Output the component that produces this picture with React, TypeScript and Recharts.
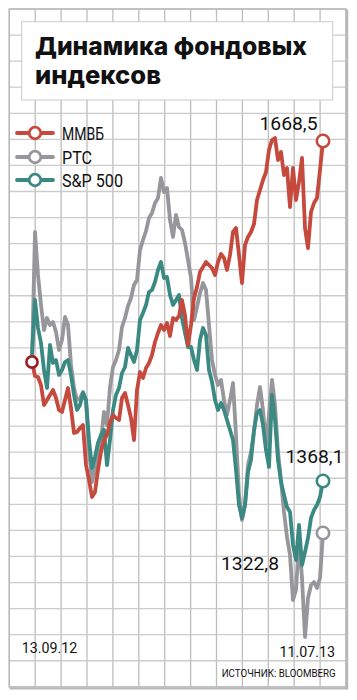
import React from "react";
import { LineChart, Line, XAxis, YAxis } from "recharts";

// ─── Data (index, start = 100) ───────────────────────────────────────────────
const tickLabels = ["13.09.12", "11.07.13"];
const seriesNames = ["ММВБ", "РТС", "S&P 500"];
const endLabels = ["1668,5", "1322,8", "1368,1"];

const mmvb = [
  100.0, 98.6, 98.5, 97.7, 95.7, 96.2, 96.7, 97.2, 96.4, 95.2,
  95.0, 96.2, 97.4, 95.4, 92.9, 93.0, 93.4, 93.7, 89.7, 88.2,
  86.5, 87.0, 89.2, 91.0, 92.2, 92.7, 94.0, 94.7, 94.4, 94.2,
  96.4, 96.9, 95.7, 94.4, 92.2, 97.2, 99.0, 98.4, 99.4, 99.9,
  100.7, 102.0, 102.9, 103.7, 103.2, 103.9, 102.6, 104.4, 104.2, 104.6,
  106.2, 104.7, 101.7, 103.7, 106.4, 107.5, 109.0, 109.5, 110.0, 109.7,
  109.4, 108.7, 110.0, 110.8, 110.4, 109.2, 110.7, 113.0, 113.4, 110.7,
  107.9, 111.7, 112.5, 113.0, 113.8, 116.2, 117.2, 118.2, 119.0, 121.2,
  122.2, 122.4, 120.2, 121.0, 118.7, 119.4, 115.5, 119.4, 116.2, 118.0,
  120.4, 113.4, 111.4, 115.0, 115.9, 116.4, 119.2, 122.1,
];

const rts = [
  100.0, 113.0, 108.7, 105.7, 103.2, 104.4, 103.7, 104.0, 103.0, 101.2,
  102.2, 104.5, 103.7, 99.7, 97.4, 96.2, 96.4, 97.0, 96.2, 91.2,
  88.0, 89.2, 90.7, 92.2, 95.0, 93.7, 97.5, 99.5, 100.2, 101.2,
  103.5, 104.4, 105.6, 106.4, 107.7, 108.2, 111.2, 112.2, 113.1, 114.4,
  114.9, 115.9, 116.4, 118.4, 117.0, 117.4, 114.2, 112.5, 114.7, 113.5,
  113.2, 111.9, 110.2, 108.4, 104.2, 105.5, 106.9, 107.9, 107.2, 103.7,
  100.2, 98.7, 97.7, 98.2, 96.2, 94.7, 96.2, 97.9, 92.7, 86.7,
  84.2, 85.7, 89.7, 91.0, 93.0, 95.7, 97.5, 95.2, 91.7, 94.7,
  98.2, 95.7, 91.0, 88.2, 85.0, 82.5, 80.7, 76.2, 77.2, 82.2,
  78.4, 72.5, 76.4, 77.7, 78.0, 77.4, 78.4, 82.9,
];

const sp500 = [
  100.7, 106.2, 103.4, 101.9, 99.2, 97.4, 101.7, 99.9, 100.2, 98.7,
  99.2, 100.0, 100.2, 98.7, 96.7, 95.2, 95.7, 96.9, 96.2, 92.2,
  89.4, 90.5, 91.9, 92.7, 93.2, 89.7, 92.2, 95.2, 96.7, 97.4,
  98.9, 99.5, 101.4, 100.7, 100.0, 101.2, 104.2, 104.9, 105.7, 107.0,
  107.2, 108.0, 109.2, 110.0, 108.4, 108.5, 106.7, 105.7, 106.2, 106.7,
  104.4, 102.9, 101.5, 101.5, 100.2, 99.2, 102.2, 103.4, 102.7, 99.2,
  98.0, 96.2, 95.2, 95.9, 95.2, 94.2, 93.2, 92.2, 89.2, 85.7,
  84.4, 85.7, 89.0, 90.2, 93.2, 94.9, 95.2, 93.7, 91.2, 89.5,
  96.7, 94.2, 90.2, 88.0, 86.7, 85.5, 85.0, 81.7, 80.2, 83.7,
  79.7, 81.0, 82.4, 84.4, 85.2, 85.7, 86.5, 88.1,
];

const data = mmvb.map((v, i) => ({ i, mmvb: v, rts: rts[i], sp500: sp500[i] }));
const last = data.length - 1;

// ─── Styles ───────────────────────────────────────────────────────────────────
const RED = "#c5493c";
const RED_DARK = "#9a1f24";
const GRAY = "#96969b";
const TEAL = "#3a8982";
const FONT = "Roboto, 'Liberation Sans', sans-serif";
const LINE_W = 3.8;

const W = 357;
const H = 700;
const gridX = Array.from({ length: 14 }, (_, k) => 9.3 + k * 25.9);
const gridY = Array.from({ length: 27 }, (_, k) => 9 + k * 26.07);

// ─── Background card: grid, title, legend, source ─────────────────────────────
function Card() {
  const legend = [
    { name: seriesNames[0], color: RED, y: 133, w: 42 },
    { name: seriesNames[1], color: GRAY, y: 157, w: 30 },
    { name: seriesNames[2], color: TEAL, y: 180, w: 61 },
  ];
  return (
    <svg width={W} height={H} style={{ position: "absolute", left: 0, top: 0 }}>
      <rect x={0} y={0} width={W} height={H} fill="#fff" />
      <rect x={10.5} y={10.5} width={336.7} height={678} fill="none" stroke="#b8b8b8" strokeWidth={2} />
      <rect x={9.3} y={9} width={336.7} height={678} fill="#fff" />
      {gridX.map((x) => (
        <line key={`vx${x}`} x1={x} x2={x} y1={9} y2={687} stroke="#bdbdbd" strokeWidth={1.3} />
      ))}
      {gridY.map((y) => (
        <line key={`hy${y}`} x1={9.3} x2={346} y1={y} y2={y} stroke="#cbcbcb" strokeWidth={1.3} />
      ))}
      <rect x={9.3} y={9} width={336.7} height={678} fill="none" stroke="#b5b5b5" strokeWidth={1.3} />

      <rect x={21.7} y={21.7} width={311} height={78.3} fill="#fff" stroke="#cbcbcb" strokeWidth={1} />
      <text x={35} y={54.5} fontFamily="Inter, Roboto, sans-serif" fontWeight={800} fontSize={24.5}
        fill="#111" textLength={272} lengthAdjust="spacingAndGlyphs">
        Динамика фондовых
      </text>
      <text x={35} y={84} fontFamily="Inter, Roboto, sans-serif" fontWeight={800} fontSize={24.5}
        fill="#111" textLength={126} lengthAdjust="spacingAndGlyphs">
        индексов
      </text>

      {legend.map((l) => (
        <g key={l.name}>
          <line x1={17} x2={53} y1={l.y} y2={l.y} stroke={l.color} strokeWidth={LINE_W} strokeLinecap="round" />
          <circle cx={35} cy={l.y} r={5.8} fill="#fff" stroke={l.color} strokeWidth={2.8} />
          <text x={62} y={l.y + 6.5} fontFamily={FONT} fontSize={17.5} fill="#111"
            textLength={l.w} lengthAdjust="spacingAndGlyphs">
            {l.name}
          </text>
        </g>
      ))}

      <text x={221.7} y={677} fontFamily={FONT} fontSize={10.5} fill="#111"
        textLength={114} lengthAdjust="spacingAndGlyphs">
        ИСТОЧНИК: BLOOMBERG
      </text>
    </svg>
  );
}

// ─── Markers ──────────────────────────────────────────────────────────────────
function makeDot(color: string, label: string, dx: number, dy: number, startMark = false) {
  return (p: any) => {
    const { cx, cy, index } = p;
    const key = `${color}-${index}`;
    if (index === 0 && startMark)
      return <circle key={key} cx={cx} cy={cy} r={5.6} fill="#fff" stroke={RED_DARK} strokeWidth={2.6} />;
    if (index !== last) return <g key={key} />;
    return (
      <g key={key}>
        <circle cx={cx} cy={cy} r={6.2} fill="#fff" stroke={color} strokeWidth={2.6} />
        <text x={cx + dx} y={cy + dy} textAnchor="middle" fontFamily={FONT} fontSize={18.5}
          fill="#111" textLength={58} lengthAdjust="spacingAndGlyphs">
          {label}
        </text>
      </g>
    );
  };
}

function DateTick({ x, y, index }: any) {
  const first = index === 0;
  return (
    <text x={first ? x - 10.3 : x + 12} y={first ? y - 17 : y - 13} textAnchor={first ? "start" : "end"}
      fontFamily={FONT} fontSize={15.5} fill="#111" textLength={55.5} lengthAdjust="spacingAndGlyphs">
      {first ? tickLabels[0] : tickLabels[1]}
    </text>
  );
}

export default function App() {
  return (
    <div style={{ position: "absolute", left: 0, top: 0, width: W, height: H, background: "#fff" }}>
      <Card />
      <div style={{ position: "absolute", left: 0, top: 0 }}>
        <LineChart width={W} height={H} data={data} margin={{ top: 62, right: 34, left: 32, bottom: 0 }}>
          <XAxis dataKey="i" type="number" domain={[0, last]} ticks={[0, last]} interval={0}
            axisLine={false} tickLine={false} height={38} tick={<DateTick />} />
          <YAxis hide domain={[70, 130]} />
          <Line dataKey="rts" stroke={GRAY} strokeWidth={LINE_W} strokeLinejoin="round"
            dot={makeDot(GRAY, endLabels[1], -73, 37)} activeDot={false} isAnimationActive={false} />
          <Line dataKey="sp500" stroke={TEAL} strokeWidth={LINE_W} strokeLinejoin="round"
            dot={makeDot(TEAL, endLabels[2], -8.5, -18)} activeDot={false} isAnimationActive={false} />
          <Line dataKey="mmvb" stroke={RED} strokeWidth={LINE_W} strokeLinejoin="round"
            dot={makeDot(RED, endLabels[0], -34.5, -11, true)} activeDot={false} isAnimationActive={false} />
        </LineChart>
      </div>
    </div>
  );
}
